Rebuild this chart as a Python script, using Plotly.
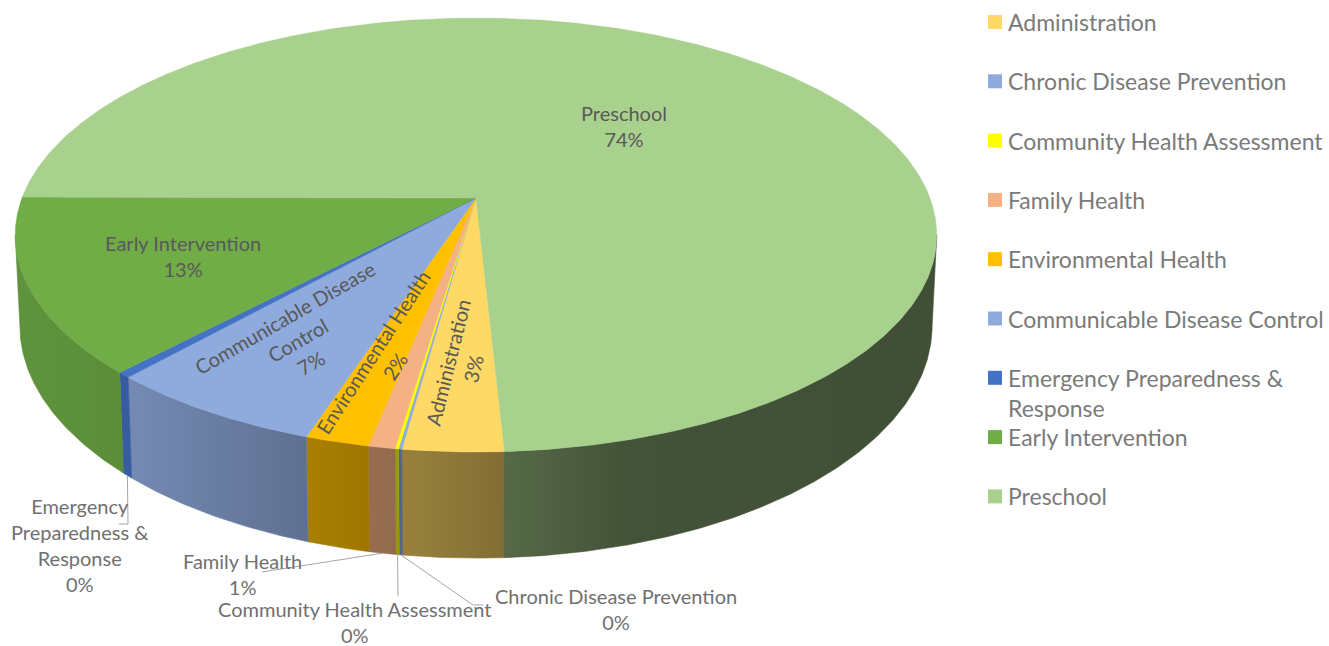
import numpy as np
import plotly.graph_objects as go

# ---------------- data ----------------
categories = ["Administration", "Chronic Disease Prevention", "Community Health Assessment",
              "Family Health", "Environmental Health", "Communicable Disease Control",
              "Emergency Preparedness & Response", "Early Intervention", "Preschool"]
values = [3.0, 0.1, 0.1, 0.8, 1.9, 6.6, 0.4, 13.0, 74.1]
colors = ["#FFD966", "#8FAADC", "#FFFF00", "#F4B183", "#FFC000", "#8FAADC",
          "#4472C4", "#70AD47", "#A9D18E"]
legend_labels = ["Administration", "Chronic Disease Prevention", "Community Health Assessment",
                 "Family Health", "Environmental Health", "Communicable Disease Control",
                 "Emergency Preparedness &<br>Response", "Early Intervention", "Preschool"]
label_names = ["Administration", "Chronic Disease Prevention", "Community Health Assessment",
               "Family Health", "Environmental Health", "Communicable Disease<br>Control",
               "Emergency<br>Preparedness &<br>Response", "Early Intervention", "Preschool"]

# ---------------- geometry / style ----------------
W, H = 1329, 646
CX, CY = 476, 198          # projected centre of pie
SX, A, K = 454, 210.7, 0.1705   # perspective ellipse parameters
DEPTH = 88
START = 177.0              # angle of first slice (deg clockwise from 12 o'clock)
FONT = "Lato"
LEG_FS = 23
LAB_FS = 20
LEG_COLOR = "#7a7a7a"
IN_COLOR = "#595959"
OUT_COLOR = "#707070"
LEADER = "#a6a6a6"

# inside labels: radius fraction, text angle
inside_style = {0: (0.70, -76), 4: (0.70, -57), 5: (0.70, -30), 7: (0.67, 0), 8: (0.50, 0)}
# outside labels: label centre, leader path after start point
outside_style = {
    6: ((80, 545), [(128, 524), (119, 524)]),
    3: ((242, 574), [(262, 572)]),
    2: ((355, 622), [(398, 596)]),
    1: ((616, 609), [(473, 605), (483, 605)]),
}


def top_pt(theta, r=1.0):
    t = np.radians(theta)
    X, Y = r * np.sin(t), r * np.cos(t)
    w = 1 + K * Y
    return CX + SX * X / w, CY - A * Y / w


def bot_pt(theta):
    x, y = top_pt(theta)
    w = 1 + K * np.cos(np.radians(theta))
    return CX + (x - CX) * 0.99, y + DEPTH / w


def shade_factor(x):
    return np.interp(x, [0, 140, 300, 400, 505, 620, 940],
                     [0.86, 0.81, 0.67, 0.60, 0.51, 0.40, 0.38])


def shade(hexc, f):
    h = hexc.lstrip("#")
    r, g, b = (int(h[i:i + 2], 16) for i in (0, 2, 4))
    return f"rgb({int(r * f)},{int(g * f)},{int(b * f)})"


total = sum(values)
angles = [v / total * 360 for v in values]
starts = np.cumsum([START] + angles[:-1])
ends = starts + np.array(angles)
pcts = [int(round(v / total * 100)) for v in values]

fig = go.Figure()

# visible front range of side wall
vis_lo = np.degrees(np.arccos(-K))
vis_hi = 360 - vis_lo

# ---- side walls ----
for i in range(len(values)):
    s, e = starts[i], ends[i]
    segs = []
    for off in (0, 360, -360):
        lo, hi = max(s, vis_lo + off), min(e, vis_hi + off)
        if hi > lo:
            segs.append((lo, hi))
    for lo, hi in segs:
        th = np.linspace(lo, hi, max(4, int((hi - lo) * 2)))
        tx, ty = top_pt(th)
        bx, by = bot_pt(th)
        xs = np.concatenate([tx, bx[::-1], tx[:1]])
        ys = np.concatenate([ty, by[::-1], ty[:1]])
        x0, x1 = float(xs.min()), float(xs.max())
        stops = np.linspace(0, 1, 8)
        cs = [[float(p), shade(colors[i], shade_factor(x0 + p * (x1 - x0)))] for p in stops]
        mid = shade(colors[i], shade_factor((x0 + x1) / 2))
        fig.add_trace(go.Scatter(
            x=xs, y=ys, mode="lines", fill="toself",
            line=dict(width=0.6, color=mid),
            fillgradient=dict(type="horizontal", colorscale=cs, start=x0, stop=x1),
            hoverinfo="skip", showlegend=False))

# ---- top faces ----
for i in range(len(values)):
    th = np.linspace(starts[i], ends[i], max(3, int(angles[i] * 2)))
    ax, ay = top_pt(th)
    xs = np.concatenate([[CX], ax, [CX]])
    ys = np.concatenate([[CY], ay, [CY]])
    fig.add_trace(go.Scatter(
        x=xs, y=ys, mode="lines", fill="toself", fillcolor=colors[i],
        line=dict(width=0.5, color=colors[i]),
        name=categories[i], hoverinfo="skip", showlegend=False))

annotations = []
shapes = []

# ---- inside labels ----
for i, (r, ang) in inside_style.items():
    mid = (starts[i] + ends[i]) / 2
    x, y = top_pt(mid, r)
    annotations.append(dict(x=x, y=y, xref="x", yref="y", text=f"{label_names[i]}<br>{pcts[i]}%",
                            showarrow=False, textangle=ang,
                            font=dict(family=FONT, size=LAB_FS, color=IN_COLOR)))

# ---- outside labels with leader lines ----
for i, ((lx, ly), path) in outside_style.items():
    mid = (starts[i] + ends[i]) / 2
    sx0, sy0 = bot_pt(mid)
    pts = [(sx0, sy0)] + path
    fig.add_trace(go.Scatter(x=[p[0] for p in pts], y=[p[1] for p in pts], mode="lines",
                             line=dict(color=LEADER, width=1), hoverinfo="skip", showlegend=False))
    annotations.append(dict(x=lx, y=ly, xref="x", yref="y", text=f"{label_names[i]}<br>{pcts[i]}%",
                            showarrow=False,
                            font=dict(family=FONT, size=LAB_FS, color=OUT_COLOR)))

# ---- legend (manual) ----
LEG_X, LEG_Y0, LEG_DY = 995, 22, 59.3
for i, name in enumerate(legend_labels):
    y = LEG_Y0 + i * LEG_DY
    shapes.append(dict(type="rect", xref="x", yref="y", x0=LEG_X - 7, x1=LEG_X + 7,
                       y0=y - 7, y1=y + 7, fillcolor=colors[i], line=dict(width=0)))
    annotations.append(dict(x=1006, y=y, xref="x", yref="y", text=name, showarrow=False,
                            xanchor="left", yanchor="top" if "<br>" in name else "middle",
                            yshift=16 if "<br>" in name else 0,
                            align="left",
                            font=dict(family=FONT, size=LEG_FS, color=LEG_COLOR)))

fig.update_layout(
    width=W, height=H,
    margin=dict(l=0, r=0, t=0, b=0),
    paper_bgcolor="white", plot_bgcolor="white",
    xaxis=dict(range=[0, W], visible=False, fixedrange=True),
    yaxis=dict(range=[H, 0], visible=False, fixedrange=True),
    annotations=annotations, shapes=shapes,
    showlegend=False,
)

fig.write_html("out.html", include_plotlyjs=True, config={"displayModeBar": False},
               post_script="document.body.style.margin='0';document.body.style.overflow='hidden';")
